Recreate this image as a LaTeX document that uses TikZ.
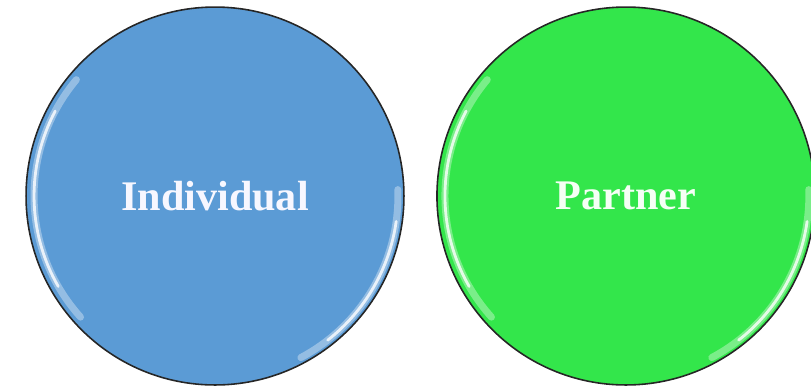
\documentclass[tikz,border=0pt]{standalone}
\usepackage{fontspec}
\setmainfont{Liberation Serif}
\usetikzlibrary{positioning}
\definecolor{indblue}{HTML}{5B9BD5}
\definecolor{partgreen}{HTML}{33E64B}
\begin{document}
\begin{tikzpicture}[x=0.02cm,y=-0.02cm,node distance=8.22cm,on grid,
      bubble/.style={circle,draw=black!85,line width=0.9pt,minimum size=7.56cm,
        inner sep=0pt,font=\bfseries\fontsize{24}{28}\selectfont},
      gloss/.style={white,line width=4pt,opacity=0.35,line cap=round},
      shine/.style={white,line width=1.6pt,opacity=0.8,line cap=round}]
      \useasboundingbox (0,0) rectangle (811,390);
      \node[bubble, fill=indblue, text=blue!3] (individual) at (215,196) {Individual};
      \node[bubble, fill=partgreen, text=green!4] (partner) [right=of individual] {Partner};
      % glossy rims
      \foreach \n in {individual,partner} {
        \draw[gloss] ([shift={(140:3.62cm)}]\n.center) arc[start angle=140,end angle=222,radius=3.62cm];
        \draw[shine] ([shift={(152:3.62cm)}]\n.center) arc[start angle=152,end angle=210,radius=3.62cm];
        \draw[gloss] ([shift={(-62:3.66cm)}]\n.center) arc[start angle=-62,end angle=2,radius=3.66cm];
        \draw[shine] ([shift={(-52:3.66cm)}]\n.center) arc[start angle=-52,end angle=-8,radius=3.66cm];
      }
    \end{tikzpicture}
\end{document}
